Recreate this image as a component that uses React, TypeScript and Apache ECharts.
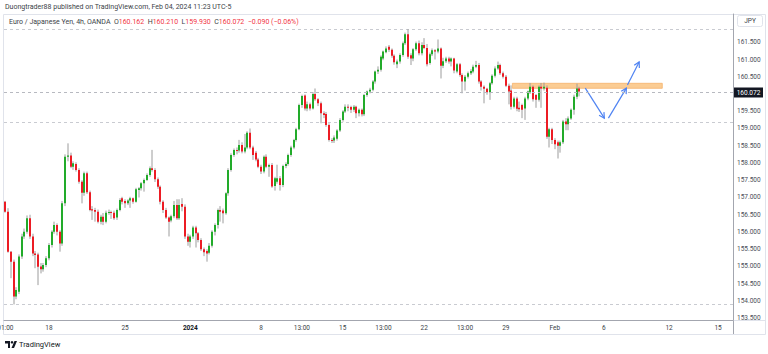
import React, { useEffect, useRef } from "react";
import * as echarts from "echarts";

// [open, close, low, high] for each 4h candle, EUR/JPY (OANDA)
const candles: number[][] = [
  [156.88, 156.59, 156.56, 156.90], [156.59, 155.43, 155.40, 156.69], [155.43, 155.14, 154.66, 155.45],
  [155.14, 154.13, 153.90, 155.20], [154.13, 154.32, 154.05, 154.40], [154.27, 155.29, 154.20, 155.35],
  [155.29, 155.87, 155.22, 155.95], [155.87, 156.01, 155.80, 156.10], [156.01, 156.40, 155.95, 156.48],
  [156.40, 155.87, 155.80, 156.50], [155.87, 155.38, 155.30, 155.95], [155.38, 155.33, 154.95, 155.45],
  [155.35, 154.99, 154.46, 155.40], [155.00, 154.92, 154.80, 155.10], [154.92, 155.04, 154.85, 155.10],
  [155.04, 155.24, 154.98, 155.30], [155.24, 155.62, 155.18, 155.68], [155.62, 156.01, 155.55, 156.05],
  [156.01, 156.20, 155.95, 156.30], [156.20, 156.01, 155.90, 156.25], [156.01, 155.67, 155.43, 156.05],
  [155.67, 156.83, 155.60, 156.90], [156.83, 158.18, 156.75, 158.25], [158.18, 158.22, 158.05, 158.57],
  [158.22, 157.89, 157.85, 158.30], [157.89, 157.99, 157.80, 158.05], [157.97, 157.80, 157.75, 158.02],
  [157.80, 157.46, 157.40, 157.85], [157.46, 157.14, 156.83, 157.50], [157.14, 157.70, 157.05, 157.75],
  [157.70, 157.15, 157.10, 157.75], [157.15, 156.64, 156.60, 157.20], [156.66, 156.62, 156.35, 156.75],
  [156.64, 156.59, 156.30, 156.70], [156.59, 156.30, 156.25, 156.65], [156.30, 156.44, 156.22, 156.50],
  [156.44, 156.30, 156.20, 156.55], [156.30, 156.56, 156.25, 156.62], [156.56, 156.58, 156.50, 156.65],
  [156.58, 156.56, 156.38, 156.62], [156.56, 156.40, 156.35, 156.62], [156.42, 156.64, 156.35, 156.68],
  [156.64, 156.93, 156.60, 156.98], [156.98, 156.88, 156.80, 157.02], [156.90, 156.83, 156.70, 156.95],
  [156.83, 156.91, 156.78, 156.95], [156.91, 156.98, 156.70, 157.02], [156.98, 156.88, 156.82, 157.00],
  [156.88, 157.24, 156.85, 157.28], [157.22, 157.27, 157.00, 157.30], [157.27, 157.41, 157.20, 157.45],
  [157.41, 157.51, 157.17, 157.55], [157.51, 157.65, 157.48, 157.70], [157.65, 157.85, 157.60, 157.90],
  [157.85, 157.80, 157.75, 158.38], [157.80, 157.53, 157.45, 157.85], [157.53, 157.31, 157.25, 157.58],
  [157.31, 156.88, 156.80, 157.35], [156.88, 156.64, 156.55, 156.92], [156.64, 156.42, 156.38, 156.70],
  [156.42, 156.30, 155.87, 156.45], [156.33, 156.46, 156.28, 156.50], [156.46, 156.78, 156.40, 156.90],
  [156.78, 156.40, 156.35, 156.95], [156.40, 156.78, 156.35, 156.95], [156.81, 156.73, 156.60, 156.98],
  [156.73, 155.87, 155.80, 156.80], [155.87, 155.72, 155.60, 155.95], [155.72, 155.87, 155.55, 155.92],
  [155.87, 156.13, 155.80, 156.18], [156.13, 155.96, 155.55, 156.18], [155.96, 155.77, 155.70, 156.00],
  [155.77, 155.50, 155.45, 155.82], [155.50, 155.41, 155.30, 155.55], [155.45, 155.38, 155.14, 155.50],
  [155.40, 155.60, 155.35, 155.68], [155.60, 156.01, 155.55, 156.05], [156.01, 156.20, 155.90, 156.25],
  [156.20, 156.64, 156.10, 156.68], [156.64, 156.59, 156.30, 156.75], [156.62, 156.54, 156.25, 156.68],
  [156.54, 157.12, 156.50, 157.15], [157.12, 157.80, 157.05, 157.85], [157.80, 158.23, 157.75, 158.28],
  [158.23, 158.38, 158.18, 158.42], [158.38, 158.36, 158.25, 158.45], [158.36, 158.52, 158.30, 158.67],
  [158.52, 158.33, 158.28, 158.60], [158.33, 158.45, 158.28, 158.84], [158.45, 158.88, 158.40, 158.92],
  [158.88, 158.45, 158.40, 159.00], [158.45, 158.23, 158.09, 158.50], [158.30, 158.10, 158.05, 158.35],
  [158.10, 157.89, 157.85, 158.15], [157.89, 157.75, 157.68, 157.95], [157.75, 158.18, 157.70, 158.22],
  [158.18, 157.89, 157.85, 158.25], [157.89, 157.94, 157.60, 157.98], [157.94, 157.32, 157.28, 158.00],
  [157.33, 157.56, 157.20, 157.60], [157.46, 157.56, 157.40, 157.95], [157.56, 157.36, 157.20, 157.62],
  [157.36, 157.91, 157.30, 157.95], [157.91, 157.97, 157.85, 158.02], [157.97, 158.23, 157.92, 158.27],
  [158.23, 158.45, 158.18, 158.50], [158.45, 158.67, 158.40, 158.70], [158.67, 158.98, 158.62, 159.02],
  [158.98, 159.68, 158.95, 159.72], [159.68, 159.94, 159.60, 159.98], [159.96, 159.58, 159.52, 159.99],
  [159.58, 159.70, 159.50, 159.78], [159.70, 159.58, 159.52, 159.75], [159.58, 160.00, 159.55, 160.05],
  [160.00, 159.85, 159.80, 160.16], [159.85, 159.73, 159.65, 159.88], [159.73, 159.44, 159.15, 159.78],
  [159.44, 159.39, 159.30, 159.50], [159.42, 159.10, 159.05, 159.48], [159.10, 158.67, 158.62, 159.15],
  [158.67, 158.65, 158.58, 158.72], [158.65, 158.74, 158.58, 158.80], [158.70, 158.94, 158.65, 158.98],
  [158.94, 159.25, 158.90, 159.30], [159.25, 159.49, 159.20, 159.53], [159.49, 159.63, 159.45, 159.70],
  [159.63, 159.60, 159.50, 159.70], [159.62, 159.54, 159.45, 159.66], [159.54, 159.63, 159.48, 159.68],
  [159.63, 159.44, 159.30, 159.66], [159.44, 159.54, 159.35, 159.58], [159.54, 159.41, 159.35, 159.58],
  [159.41, 159.97, 159.36, 160.00], [159.97, 160.07, 159.92, 160.10], [160.07, 160.12, 160.02, 160.18],
  [160.12, 160.36, 160.08, 160.40], [160.36, 160.65, 160.30, 160.68], [160.65, 160.70, 160.58, 160.80],
  [160.70, 161.08, 160.65, 161.12], [161.03, 161.23, 160.98, 161.26], [161.21, 161.32, 161.18, 161.38],
  [161.37, 161.28, 161.22, 161.42], [161.28, 161.11, 161.05, 161.32], [161.11, 160.92, 160.85, 161.15],
  [160.86, 160.94, 160.75, 161.00], [160.94, 161.13, 160.88, 161.18], [161.13, 161.47, 161.08, 161.52],
  [161.47, 161.73, 161.42, 161.78], [161.73, 161.08, 161.02, 161.88], [161.12, 161.03, 160.84, 161.18],
  [161.03, 161.30, 160.95, 161.33], [161.30, 161.47, 161.25, 161.52], [161.47, 161.18, 161.12, 161.55],
  [161.18, 161.42, 161.12, 161.50], [161.42, 161.33, 161.30, 161.62], [161.33, 160.86, 160.80, 161.45],
  [160.90, 161.15, 160.85, 161.20], [161.15, 161.27, 161.10, 161.32], [161.27, 161.23, 161.00, 161.30],
  [161.23, 161.32, 161.18, 161.58], [161.32, 160.82, 160.45, 161.35], [160.82, 160.95, 160.75, 161.05],
  [160.95, 161.03, 160.90, 161.08], [161.03, 160.94, 160.88, 161.08], [160.94, 161.03, 160.80, 161.06],
  [161.03, 160.68, 160.60, 161.05], [160.65, 160.86, 160.60, 160.90], [160.86, 160.55, 160.50, 160.90],
  [160.55, 160.36, 160.02, 160.60], [160.36, 160.50, 160.10, 160.55], [160.50, 160.60, 160.45, 160.65],
  [160.60, 160.67, 160.55, 160.72], [160.65, 160.79, 160.60, 160.85], [160.79, 160.84, 160.75, 160.96],
  [160.84, 160.36, 160.30, 160.90], [160.36, 160.21, 160.10, 160.40], [160.21, 160.15, 159.73, 160.25],
  [160.15, 160.05, 159.98, 160.18], [160.05, 160.31, 159.83, 160.35], [160.31, 160.53, 160.27, 160.57],
  [160.53, 160.74, 160.48, 160.80], [160.74, 160.84, 160.70, 160.94], [160.84, 160.60, 160.55, 160.88],
  [160.60, 160.50, 160.45, 160.65], [160.50, 160.24, 160.20, 160.55], [160.24, 160.07, 159.70, 160.30],
  [160.10, 159.63, 159.55, 160.25], [159.63, 159.87, 159.58, 159.92], [159.87, 159.57, 159.50, 159.92],
  [159.60, 159.56, 159.48, 159.78], [159.68, 159.54, 159.30, 159.72], [159.58, 159.87, 159.25, 159.92],
  [159.87, 160.07, 159.82, 160.10], [160.05, 160.21, 160.00, 160.32], [160.21, 159.85, 159.78, 160.25],
  [159.97, 159.83, 159.60, 160.00], [159.83, 160.21, 159.78, 160.25], [160.21, 160.16, 159.60, 160.32],
  [160.16, 160.21, 160.10, 160.33], [160.18, 158.76, 158.70, 160.25], [158.76, 158.98, 158.45, 159.02],
  [158.98, 158.67, 158.55, 159.02], [158.67, 158.54, 158.40, 158.72], [158.60, 158.50, 158.13, 158.65],
  [158.50, 158.60, 158.30, 158.65], [158.60, 159.20, 158.55, 159.25], [159.20, 159.12, 158.95, 159.30],
  [159.12, 159.29, 158.95, 159.35], [159.29, 159.54, 159.25, 159.58], [159.54, 159.92, 159.40, 159.98],
  [159.92, 160.162, 159.85, 160.30], [160.162, 160.072, 159.93, 160.21],
];

// time axis: number of 4h slots shown (history + empty future), and labelled slots
const slotCount = 268;
const timeTicks: [number, string][] = [
  [0, "01:00"], [16, "18"], [44, "25"], [68, "2024"], [94, "8"], [109, "13:00"],
  [124, "15"], [139, "13:00"], [154, "22"], [169, "13:00"], [184, "29"], [202, "Feb"],
  [220, "6"], [244, "12"], [262, "15"],
];
const boldTicks = ["2024"];

// price axis
const priceMin = 153.449;
const priceMax = 162.319;
const priceTicks = [153.5, 154, 154.5, 155, 155.5, 156, 156.5, 157, 157.5, 158, 158.5, 159, 159.5, 160.5, 161, 161.5];

// drawings (in data units: price, slot index)
const levelLines = [161.88, 159.19, 153.9];
const zoneBox = [160.31, 160.165, 186.4, 241.5]; // top price, bottom price, from slot, to slot
const arrowLines = [
  [160.17, 159.3, 213.2, 220.2],
  [159.3, 160.17, 221.7, 228.3],
  [160.26, 160.93, 228.7, 233.0],
];

const UP = "#22ab2a";
const DOWN = "#ec1c24";
const FONT = "Roboto, 'Noto Sans', sans-serif";

export default function App() {
  const ref = useRef<HTMLDivElement>(null);
  useEffect(() => {
    if (!ref.current) return;
    const chart = echarts.init(ref.current, undefined, { renderer: "svg" });
    const tickMap = new Map<number, string>(timeTicks);
    const last = candles[candles.length - 1];
    const prevClose = candles[candles.length - 2][1];
    const chg = last[1] - prevClose;
    const pct = (chg / prevClose) * 100;
    const sgn = (v: number, d: number) => (v < 0 ? "\u2212" : "+") + Math.abs(v).toFixed(d);
    const legend =
      `{n|Euro / Japanese Yen, 4h, OANDA}  {k|O}{v|${last[0].toFixed(3)}}  {k|H}{v|${last[3].toFixed(3)}}  ` +
      `{k|L}{v|${last[2].toFixed(3)}}  {k|C}{v|${last[1].toFixed(3)}}  {v|${sgn(chg, 3)} (${sgn(pct, 2)}%)}`;

    const slotX = (api: any, slot: number, price: number) => {
      const p0 = api.coord([0, price]);
      const band = api.size([1, 0])[0];
      return [p0[0] + slot * band, p0[1]];
    };

    chart.setOption({
      animation: false,
      backgroundColor: "#ffffff",
      textStyle: { fontFamily: FONT },
      title: [
        {
          text: "Duongtrader88 published on TradingView.com, Feb 04, 2024 11:23 UTC-5",
          left: 5, top: 3, padding: 0,
          textStyle: { fontSize: 7, fontWeight: "normal", color: "#3b3f48", fontFamily: FONT },
        },
        {
          text: legend,
          left: 9, top: 18, padding: 0,
          textStyle: {
            fontSize: 7, fontWeight: "normal", fontFamily: FONT,
            rich: {
              n: { fontSize: 7, color: "#3b3f48", fontFamily: FONT },
              k: { fontSize: 7, color: "#3b3f48", fontFamily: FONT },
              v: { fontSize: 7, color: "#f23645", fontFamily: FONT },
            },
          },
        },
      ],
      grid: { left: 4, right: 35, top: 14, bottom: 34, containLabel: false, outerBoundsMode: "none" },
      xAxis: {
        type: "category",
        data: Array.from({ length: slotCount }, (_, i) => String(i)),
        boundaryGap: true,
        axisLine: { show: true, lineStyle: { color: "#a3a6af", width: 1 } },
        axisTick: { show: false },
        splitLine: { show: false },
        axisLabel: {
          interval: (i: number) => tickMap.has(i),
          formatter: (_v: string, i: number) => {
            const t = tickMap.get(i) || "";
            return boldTicks.includes(t) ? `{b|${t}}` : t;
          },
          color: "#3b3f48", fontSize: 6.5, margin: 4, fontFamily: FONT,
          rich: { b: { fontWeight: "bold", fontSize: 6.5, color: "#131722", fontFamily: FONT } },
        },
      },
      yAxis: {
        type: "value",
        position: "right",
        min: priceMin,
        max: priceMax,
        axisLine: { show: true, lineStyle: { color: "#a3a6af", width: 1 } },
        axisTick: { show: false },
        splitLine: { show: false },
        axisLabel: {
          customValues: priceTicks,
          formatter: (v: number) => v.toFixed(3),
          color: "#4a4e59", fontSize: 6.5, margin: 4, fontFamily: FONT,
          showMinLabel: true, showMaxLabel: true,
        },
      },
      series: [
        {
          type: "custom",
          name: "levels",
          silent: true,
          clip: false,
          z: 1,
          data: levelLines.map((v) => [0, v]),
          encode: { x: 0, y: 1 },
          renderItem: (params: any, api: any) => {
            const cs = params.coordSys;
            const y = Math.round(api.coord([0, api.value(1)])[1]) + 0.5;
            return {
              type: "line",
              shape: { x1: cs.x, y1: y, x2: cs.x + cs.width, y2: y },
              style: { stroke: "#c9cbd1", lineWidth: 1, lineDash: [3, 3] },
            };
          },
        },
        {
          type: "custom",
          name: "zone",
          silent: true,
          clip: false,
          z: 2,
          data: [[0, zoneBox[0], zoneBox[1], zoneBox[2], zoneBox[3]]],
          encode: { x: 0, y: [1, 2] },
          renderItem: (_p: any, api: any) => {
            const a = slotX(api, api.value(3), api.value(1));
            const b = slotX(api, api.value(4), api.value(2));
            return {
              type: "rect",
              shape: { x: a[0], y: a[1], width: b[0] - a[0], height: b[1] - a[1] },
              style: { fill: "rgba(248,170,75,0.6)", stroke: "#f6b26b", lineWidth: 0.8 },
            };
          },
        },
        {
          type: "custom",
          name: "EURJPY",
          silent: true,
          clip: false,
          z: 3,
          data: candles.map((c, i) => [i, c[0], c[1], c[2], c[3]]),
          encode: { x: 0, y: [1, 2, 3, 4] },
          renderItem: (_p: any, api: any) => {
            const i = api.value(0);
            const o = api.value(1), c = api.value(2), l = api.value(3), h = api.value(4);
            const pH = api.coord([i, h]);
            const pL = api.coord([i, l]);
            const yo = api.coord([i, o])[1];
            const yc = api.coord([i, c])[1];
            const xc = Math.round(pH[0]);
            const top = Math.min(yo, yc);
            const hh = Math.max(1, Math.abs(yo - yc));
            return {
              type: "group",
              children: [
                { type: "line", shape: { x1: xc, y1: pH[1], x2: xc, y2: pL[1] }, style: { stroke: "#9c9c9c", lineWidth: 1 } },
                { type: "rect", shape: { x: xc - 1, y: top, width: 2, height: hh }, style: { fill: c >= o ? UP : DOWN } },
              ],
            };
          },
        },
        {
          type: "custom",
          name: "arrows",
          silent: true,
          clip: false,
          z: 4,
          data: arrowLines.map((a) => [0, a[0], a[1], a[2], a[3]]),
          encode: { x: 0, y: [1, 2] },
          renderItem: (_p: any, api: any) => {
            const a = slotX(api, api.value(3), api.value(1));
            const b = slotX(api, api.value(4), api.value(2));
            const ang = Math.atan2(b[1] - a[1], b[0] - a[0]);
            const L = 6, sp = 0.5;
            const h1 = [b[0] - L * Math.cos(ang - sp), b[1] - L * Math.sin(ang - sp)];
            const h2 = [b[0] - L * Math.cos(ang + sp), b[1] - L * Math.sin(ang + sp)];
            const st = { stroke: "#4f83f2", lineWidth: 1.2, fill: "none" };
            return {
              type: "group",
              children: [
                { type: "line", shape: { x1: a[0], y1: a[1], x2: b[0], y2: b[1] }, style: st },
                { type: "polyline", shape: { points: [h1, b, h2] }, style: st },
              ],
            };
          },
        },
        {
          type: "custom",
          name: "lastPrice",
          silent: true,
          clip: false,
          z: 10,
          data: [[0, last[1]]],
          encode: { x: 0, y: 1 },
          renderItem: (params: any, api: any) => {
            const cs = params.coordSys;
            const v = api.value(1);
            const y = Math.round(api.coord([0, v])[1]) + 0.5;
            const xr = cs.x + cs.width;
            return {
              type: "group",
              children: [
                { type: "line", shape: { x1: cs.x, y1: y, x2: xr, y2: y }, style: { stroke: "#b7b9c0", lineWidth: 1, lineDash: [3, 3] } },
                { type: "rect", shape: { x: xr + 1, y: y - 5, width: 29, height: 10 }, style: { fill: "#131722" } },
                {
                  type: "text",
                  style: {
                    text: v.toFixed(3), x: xr + 15.5, y: y, align: "center", verticalAlign: "middle",
                    fill: "#ffffff", fontSize: 6.5, fontFamily: FONT,
                  },
                },
              ],
            };
          },
        },
      ],
      graphic: [
        { type: "rect", shape: { x: 3.5, y: 14.5, width: 762, height: 320 }, style: { fill: "none", stroke: "#e0e3eb", lineWidth: 1 }, silent: true },
        { type: "line", shape: { x1: 733.5, y1: 320, x2: 733.5, y2: 334 }, style: { stroke: "#a3a6af", lineWidth: 1 }, silent: true },
        { type: "line", shape: { x1: 733.5, y1: 320.5, x2: 766, y2: 320.5 }, style: { stroke: "#e0e3eb", lineWidth: 1 }, silent: true },
        { type: "rect", shape: { x: 737.5, y: 15.5, width: 25, height: 11, r: 2 }, style: { fill: "#ffffff", stroke: "#e0e3eb", lineWidth: 1 }, silent: true },
        { type: "text", style: { text: "JPY", x: 750, y: 21, align: "center", verticalAlign: "middle", fill: "#3b3f48", fontSize: 6.5, fontFamily: FONT }, silent: true },
        {
          type: "group", x: 5, y: 341, silent: true,
          children: [
            { type: "polygon", shape: { points: [[0, 0], [5, 0], [5, 7], [3, 7], [3, 2.5], [0, 2.5]] }, style: { fill: "#131722" } },
            { type: "circle", shape: { cx: 7, cy: 1.3, r: 1.3 }, style: { fill: "#131722" } },
            { type: "polygon", shape: { points: [[9.5, 0], [12, 0], [9, 7], [6.5, 7]] }, style: { fill: "#131722" } },
          ],
        },
        { type: "text", style: { text: "TradingView", x: 19, y: 344.5, verticalAlign: "middle", fill: "#131722", fontSize: 7.5, fontFamily: FONT }, silent: true },
      ],
    });
    return () => chart.dispose();
  }, []);
  return <div ref={ref} style={{ position: "fixed", left: 0, top: 0, width: 768, height: 354, background: "#fff" }} />;
}
